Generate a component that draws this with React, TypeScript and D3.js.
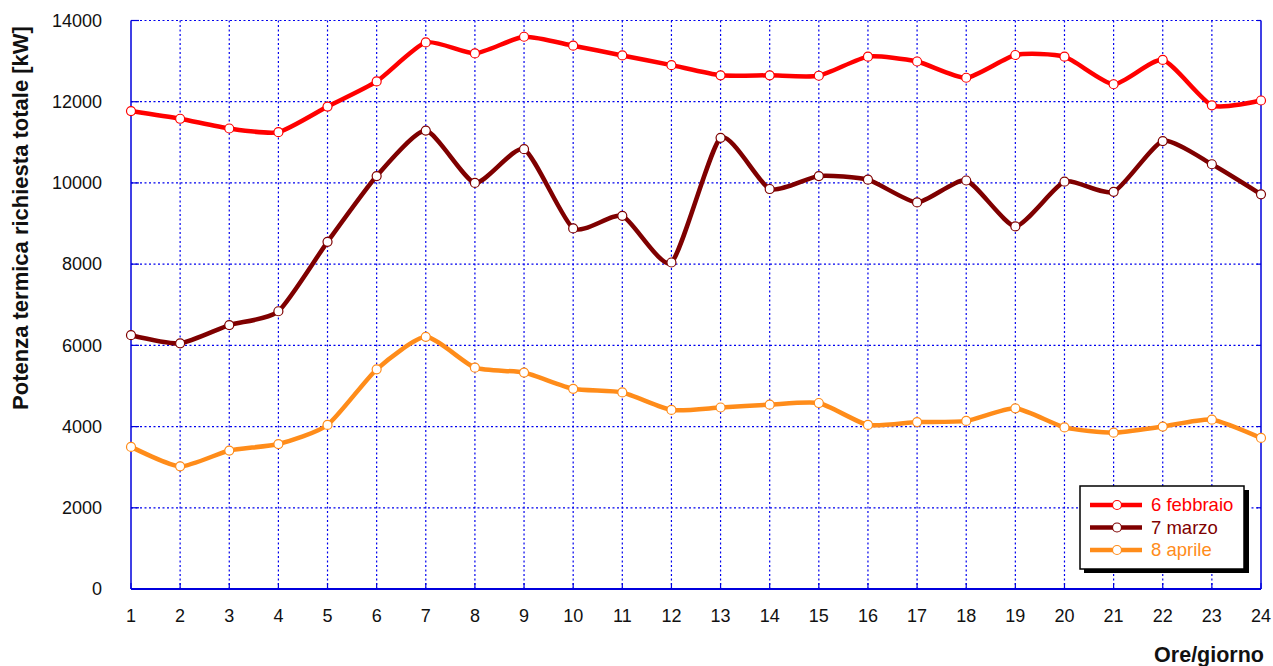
import React, { useEffect } from 'react';
import * as d3 from 'd3';

// ore del giorno
const hours = [1, 2, 3, 4, 5, 6, 7, 8, 9, 10, 11, 12, 13, 14, 15, 16, 17, 18, 19, 20, 21, 22, 23, 24];

// potenza termica [kW]
const febbraio = [11770, 11580, 11340, 11250, 11880, 12500, 13460, 13190, 13600, 13380, 13140, 12900,
  12650, 12650, 12640, 13110, 12990, 12590, 13150, 13110, 12430, 13030, 11910, 12030];
const marzo = [6250, 6050, 6500, 6840, 8550, 10170, 11290, 10000, 10830, 8880, 9190, 8040,
  11110, 9850, 10170, 10080, 9520, 10060, 8930, 10030, 9780, 11030, 10460, 9720];
const aprile = [3500, 3020, 3410, 3570, 4040, 5410, 6210, 5450, 5330, 4930, 4840, 4410,
  4470, 4540, 4580, 4040, 4110, 4140, 4450, 3980, 3850, 4000, 4170, 3720];

const yTicks = [0, 2000, 4000, 6000, 8000, 10000, 12000, 14000];

const seriesNames = ['6 febbraio', '7 marzo', '8 aprile'];
const seriesColors = ['#ff0000', '#7f0000', '#ff8c1a'];
const seriesValues = [febbraio, marzo, aprile];

const W = 1273;
const H = 666;
const left = 131, right = 1261, top = 20.5, bottom = 589;
const font = 'Arial, "Liberation Sans", sans-serif';

const App = () => {
  useEffect(() => {
    document.body.style.margin = '0';
  }, []);

  const x = d3.scaleLinear().domain([1, 24]).range([left, right]);
  const y = d3.scaleLinear().domain([0, 14000]).range([bottom, top]);

  const line = d3.line<number>()
    .x((d, i) => x(hours[i]))
    .y(d => y(d))
    .curve(d3.curveCardinal.tension(0.4));

  return (
    <svg width={W} height={H} style={{ display: 'block', background: '#fff' }} fontFamily={font}>
      {/* griglia */}
      <g stroke="#0000ee" strokeWidth={1.2} strokeDasharray="2,2.5">
        {hours.slice(1, -1).map(h => (
          <line key={'v' + h} x1={x(h)} x2={x(h)} y1={top} y2={bottom} />
        ))}
        {yTicks.slice(1).map(t => (
          <line key={'h' + t} x1={left} x2={right} y1={y(t)} y2={y(t)} />
        ))}
      </g>
      {/* bordo */}
      <g stroke="#0000dd" strokeWidth={1.5}>
        <line x1={left} x2={left} y1={top} y2={bottom} />
        <line x1={right} x2={right} y1={top} y2={bottom} />
        <line x1={left} x2={right} y1={bottom} y2={bottom} strokeWidth={2} />
        {hours.map(h => (
          <line key={'tx' + h} x1={x(h)} x2={x(h)} y1={bottom} y2={bottom - 6} strokeWidth={1.2} />
        ))}
        {yTicks.map(t => (
          <g key={'ty' + t}>
            <line x1={left} x2={left + 8} y1={y(t)} y2={y(t)} strokeWidth={1.2} />
            <line x1={right - 4} x2={right} y1={y(t)} y2={y(t)} strokeWidth={1.2} />
          </g>
        ))}
      </g>
      {/* etichette assi */}
      <g fontSize={18} fill="#111">
        {yTicks.map(t => (
          <text key={'ly' + t} x={102} y={y(t)} dy="0.35em" textAnchor="end">{t}</text>
        ))}
        {hours.map(h => (
          <text key={'lx' + h} x={x(h)} y={622} textAnchor="middle">{h}</text>
        ))}
      </g>
      <text x={1264} y={662} textAnchor="end" fontSize={21.5} fontWeight="bold" fill="#111">Ore/giorno</text>
      <text transform="translate(28,218) rotate(-90)" textAnchor="middle" fontSize={22}
        fontWeight="bold" fill="#111">Potenza termica richiesta totale [kW]</text>

      {/* serie */}
      {seriesValues.map((vals, si) => (
        <g key={seriesNames[si]}>
          <path d={line(vals) || ''} fill="none" stroke={seriesColors[si]} strokeWidth={4.5}
            strokeLinejoin="round" strokeLinecap="round" />
          {vals.map((v, i) => (
            <circle key={i} cx={x(hours[i])} cy={y(v)} r={4.5} fill="#fff"
              stroke={seriesColors[si]} strokeWidth={1.2} />
          ))}
        </g>
      ))}

      {/* legenda */}
      <g>
        <rect x={1084} y={490} width={165} height={83} fill="#000" />
        <rect x={1080} y={486} width={164} height={83} fill="#fff" stroke="#000" strokeWidth={1.5} />
        {seriesNames.map((name, i) => {
          const ly = 505 + i * 22.5;
          return (
            <g key={'lg' + name}>
              <line x1={1090} x2={1142} y1={ly} y2={ly} stroke={seriesColors[i]} strokeWidth={4.5} />
              <circle cx={1117} cy={ly} r={4.5} fill="#fff" stroke={seriesColors[i]} strokeWidth={1.2} />
              <text x={1151} y={ly} dy="0.35em" fontSize={18.5} fill={seriesColors[i]}>{name}</text>
            </g>
          );
        })}
      </g>
    </svg>
  );
};

export default App;
